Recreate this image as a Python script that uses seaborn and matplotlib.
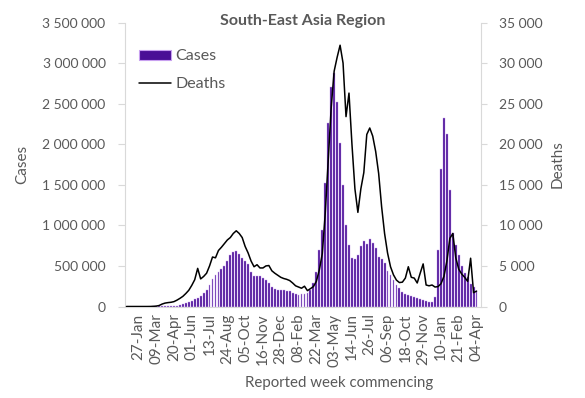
import numpy as np
import pandas as pd
import matplotlib
matplotlib.use("Agg")
import matplotlib.pyplot as plt
import seaborn as sns
from matplotlib.ticker import FuncFormatter, MultipleLocator
from matplotlib.patches import Patch
from matplotlib.lines import Line2D

# weekly cases (thousands), week commencing 30-Dec-2019 ... 04-Apr-2022
cases_k = [0, 0, 0, 0, 0, 0, 0, 0, 0, 1, 1, 2, 3, 3, 4, 5, 6,
           8, 20, 30, 40, 52, 68, 88, 108, 135, 165, 205, 260, 335, 385,
           420, 460, 500, 560, 630, 675, 690, 650, 600, 560, 520, 420,
           375, 370, 372, 350, 330, 285, 245, 210, 203, 200, 200, 195,
           185, 170, 160, 142, 150, 160, 165, 200, 286, 429, 696, 943,
           1518, 2257, 2709, 2874, 2524, 2011, 1497, 1000, 758, 594, 580,
           630, 740, 810, 770, 827, 785, 717, 610, 590, 530, 440, 388,
           330, 265, 224, 183, 154, 142, 129, 113, 101, 89, 80, 68, 60,
           55, 120, 695, 1700, 2320, 2130, 1430, 900, 760, 630, 500, 410,
           360, 280, 240, 195]

deaths = [0, 0, 0, 0, 0, 0, 0, 0, 5, 20, 50, 120, 300, 420, 480, 520, 600,
          780, 1000, 1250, 1600, 2000, 2600, 3300, 4700, 3400, 3700, 4100,
          5000, 6100, 6000, 6900, 7300, 7750, 8200, 8500, 9000, 9330, 9000,
          8500, 7400, 6600, 5600, 4900, 5150, 4750, 4750, 5000, 5050, 4400,
          4100, 3850, 3600, 3450, 3350, 3200, 2900, 2550, 2400, 2250, 2500,
          1950, 2200, 2450, 3100, 4500, 6500, 11500, 18000, 24500, 29000,
          30700, 32200, 30000, 23400, 26300, 20000, 14500, 11600, 14500,
          16500, 21200, 22000, 21000, 19100, 16400, 12300, 9000, 6600, 4900,
          3900, 3250, 2950, 3000, 3500, 4900, 3600, 3500, 2900, 4100, 5250,
          2650, 2550, 2650, 2400, 2450, 2800, 3700, 5600, 8400, 9000, 6000,
          4600, 4000, 3600, 3100, 5950, 1700, 1900]

tick_labels = ["27-Jan", "09-Mar", "20-Apr", "01-Jun", "13-Jul", "24-Aug",
               "05-Oct", "16-Nov", "28-Dec", "08-Feb", "22-Mar", "03-May",
               "14-Jun", "26-Jul", "06-Sep", "18-Oct", "29-Nov", "10-Jan",
               "21-Feb", "04-Apr"]

PURPLE = "#4A0F96"
EDGE = "#C8A0F0"
GREY = "#595959"
AXIS = "#D9D9D9"

sns.set_style("white")
plt.rcParams["font.family"] = ["Lato", "DejaVu Sans"]

df = pd.DataFrame({"pos": np.arange(len(cases_k)),
                   "cases": np.array(cases_k) * 1000,
                   "deaths": deaths})

fig = plt.figure(figsize=(5.85, 3.98), dpi=100)
ax = fig.add_axes([125 / 585, 1 - 306.5 / 398, 356 / 585, 284 / 398])

sns.barplot(data=df, x="pos", y="cases", color=PURPLE, saturation=1,
            width=0.62, edgecolor=EDGE, linewidth=0.3, ax=ax)
ax2 = ax.twinx()
sns.lineplot(data=df, x="pos", y="deaths", color="black", lw=1.1, ax=ax2)

ax.set_xlim(-0.5, len(cases_k) + 0.5)
ax.set_ylim(0, 3500000)
ax2.set_ylim(0, 35000)
ax.yaxis.set_major_locator(MultipleLocator(500000))
ax2.yaxis.set_major_locator(MultipleLocator(5000))
fmt = FuncFormatter(lambda v, p: f"{v:,.0f}".replace(",", " "))
ax.yaxis.set_major_formatter(fmt)
ax2.yaxis.set_major_formatter(fmt)

ax.set_xticks(np.arange(4, len(cases_k), 6))
ax.set_xticklabels(tick_labels, rotation=90)
ax.set_xticks(np.arange(-0.5, len(cases_k) + 1, 1), minor=True)
ax.tick_params(axis="x", which="major", length=0, pad=5, labelsize=11, labelcolor=GREY)
ax.tick_params(axis="x", which="minor", length=2.5, color=AXIS, width=0.6)
ax.tick_params(axis="y", length=5, color=AXIS, labelsize=10, labelcolor=GREY, pad=9)
ax2.tick_params(axis="y", length=4, color=AXIS, labelsize=10, labelcolor=GREY, pad=9)

for s in ["top", "right"]:
    ax.spines[s].set_visible(False)
for s in ["top", "left", "bottom"]:
    ax2.spines[s].set_visible(False)
for a, s in [(ax, "left"), (ax, "bottom"), (ax2, "right")]:
    a.spines[s].set_color(AXIS)
    a.spines[s].set_linewidth(0.8)

ax.set_xlabel("")
ax.set_ylabel("")
ax2.set_ylabel("")
fig.text(22 / 585, 1 - 164 / 398, "Cases", rotation=90, ha="center", va="center",
         fontsize=11, color=GREY)
fig.text(558 / 585, 1 - 164 / 398, "Deaths", rotation=90, ha="center", va="center",
         fontsize=11, color=GREY)
fig.text(339 / 585, 1 - 383 / 398, "Reported week commencing", ha="center",
         va="center", fontsize=10.8, color=GREY)
fig.text(303 / 585, 1 - 21 / 398, "South-East Asia Region", ha="center",
         va="center", fontsize=11.5, fontweight="bold", color=GREY)

handles = [Patch(facecolor=PURPLE, edgecolor=EDGE, linewidth=0.8),
           Line2D([], [], color="black", lw=1.1)]
fig.legend(handles, ["Cases", "Deaths"], loc="upper left",
           bbox_to_anchor=(133 / 585, 1 - 43 / 398), frameon=False,
           fontsize=11.5, labelcolor=GREY, handlelength=2.0, handleheight=0.55,
           handletextpad=0.25, labelspacing=0.85, borderaxespad=0)

fig.savefig("out.png", dpi=100)
